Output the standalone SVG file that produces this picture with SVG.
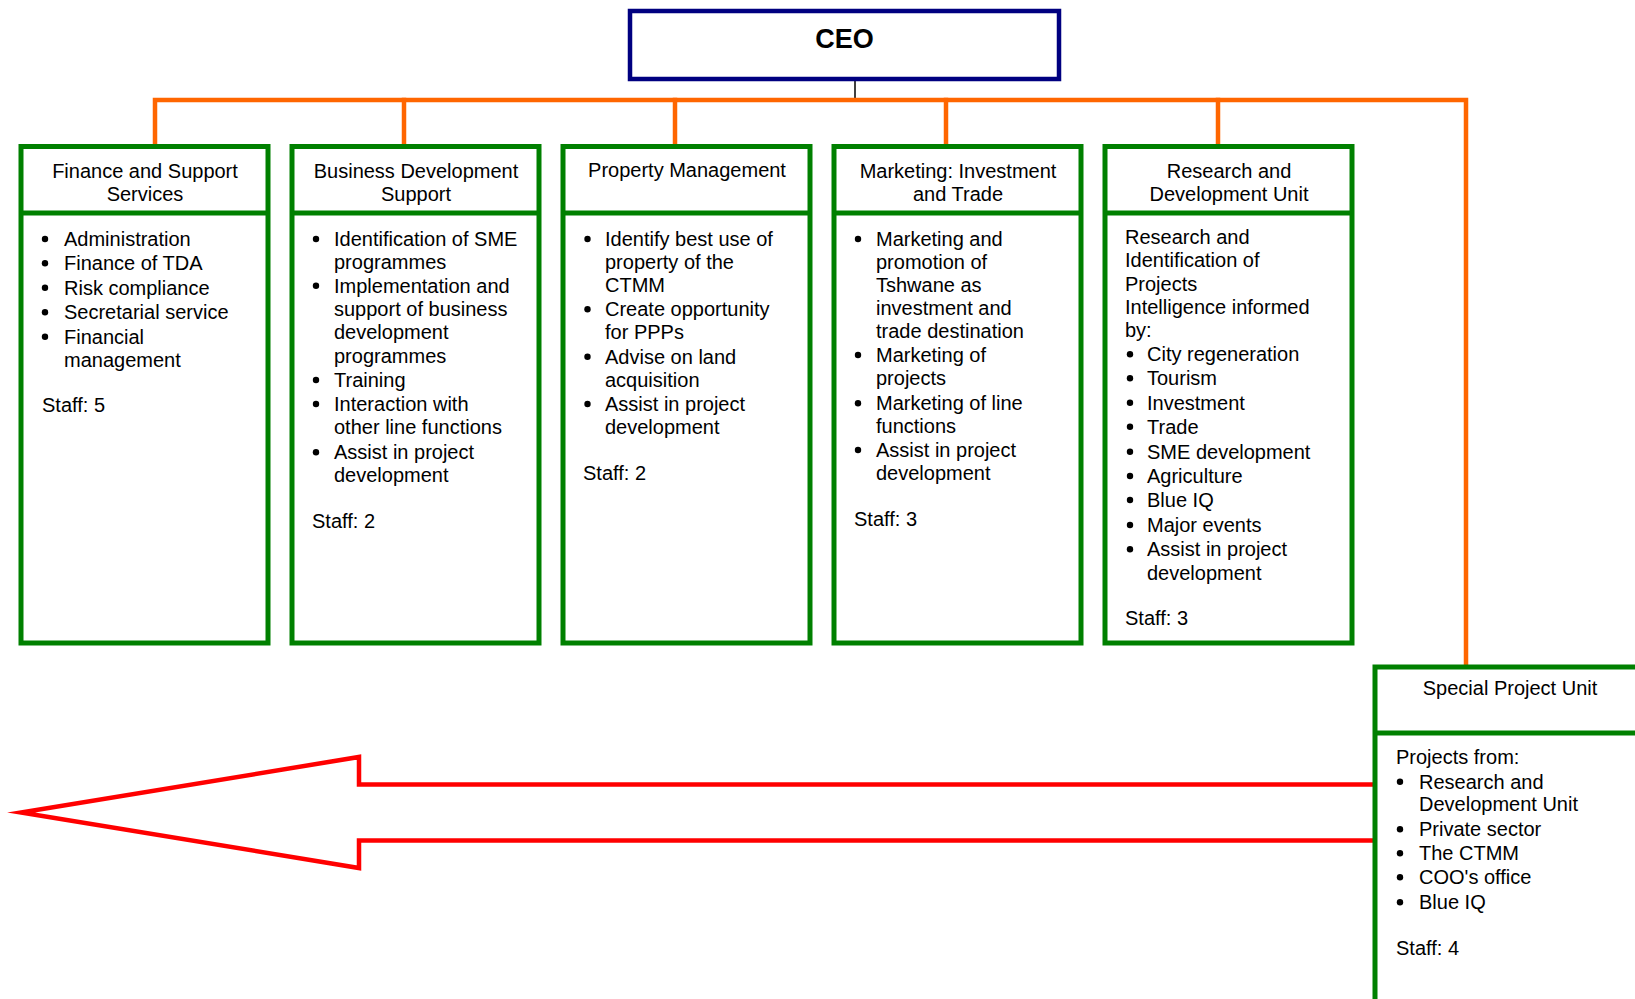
<svg xmlns="http://www.w3.org/2000/svg" width="1635" height="999" viewBox="0 0 1635 999">
  <style>
    .unit { fill: #ffffff; stroke: #008000; stroke-width: 5; }
    .div { stroke: #008000; stroke-width: 5; }
    .hd { font-family: "Liberation Sans", Arial, sans-serif; font-size: 20px; fill: #000; text-anchor: middle; }
    .tx { font-family: "Liberation Sans", Arial, sans-serif; font-size: 20px; fill: #000; }
    .bul { fill: #000; }
    .org { fill: none; stroke: #FF6600; stroke-width: 4.5; stroke-linejoin: miter; stroke-linecap: square; }
  </style>

  <rect width="1635" height="999" fill="#ffffff"/>

  <!-- connectors -->
  <g id="connectors">
    <line x1="855" y1="81" x2="855" y2="99" stroke="#000" stroke-width="1.5"/>
    <path class="org" d="M155,144 V100 H1466 V664"/>
    <line class="org" x1="404" y1="100" x2="404" y2="144"/>
    <line class="org" x1="675" y1="100" x2="675" y2="144"/>
    <line class="org" x1="946" y1="100" x2="946" y2="144"/>
    <line class="org" x1="1218" y1="100" x2="1218" y2="144"/>
    <path fill="none" stroke="#FF0000" stroke-width="4.5" stroke-linejoin="miter" stroke-miterlimit="20"
          d="M1373,784.5 H359 V757 L21,812.5 L359,868 V840.5 H1373"/>
  </g>

  <!-- CEO -->
  <g id="ceo">
    <rect x="630" y="11" width="429" height="68" fill="#ffffff" stroke="#000080" stroke-width="4.5"/>
    <text x="844.5" y="48" font-family="Liberation Sans, Arial, sans-serif" font-size="27" font-weight="bold" text-anchor="middle">CEO</text>
  </g>

  <!-- Finance and Support Services -->
  <g id="finance">
    <rect class="unit" x="21" y="146.5" width="247" height="496.5"/>
    <line class="div" x1="21" y1="213" x2="268" y2="213"/>
    <text class="hd" x="145" y="178">Finance and Support</text>
    <text class="hd" x="145" y="200.5">Services</text>
    <circle class="bul" cx="45" cy="239" r="3.2"/><text class="tx" x="64" y="246">Administration</text>
    <circle class="bul" cx="45" cy="263.3" r="3.2"/><text class="tx" x="64" y="270.3">Finance of TDA</text>
    <circle class="bul" cx="45" cy="287.7" r="3.2"/><text class="tx" x="64" y="294.7">Risk compliance</text>
    <circle class="bul" cx="45" cy="312.3" r="3.2"/><text class="tx" x="64" y="319.3">Secretarial service</text>
    <circle class="bul" cx="45" cy="336.7" r="3.2"/><text class="tx" x="64" y="343.7">Financial</text>
    <text class="tx" x="64" y="367">management</text>
    <text class="tx" x="42" y="412">Staff: 5</text>
  </g>

  <!-- Business Development Support -->
  <g id="business">
    <rect class="unit" x="292" y="146.5" width="247" height="496.5"/>
    <line class="div" x1="292" y1="213" x2="539" y2="213"/>
    <text class="hd" x="416" y="178">Business Development</text>
    <text class="hd" x="416" y="200.5">Support</text>
    <circle class="bul" cx="316" cy="239" r="3.2"/><text class="tx" x="334" y="246">Identification of SME</text>
    <text class="tx" x="334" y="269.3">programmes</text>
    <circle class="bul" cx="316" cy="285.7" r="3.2"/><text class="tx" x="334" y="292.7">Implementation and</text>
    <text class="tx" x="334" y="316">support of business</text>
    <text class="tx" x="334" y="339.3">development</text>
    <text class="tx" x="334" y="362.7">programmes</text>
    <circle class="bul" cx="316" cy="380" r="3.2"/><text class="tx" x="334" y="387">Training</text>
    <circle class="bul" cx="316" cy="404" r="3.2"/><text class="tx" x="334" y="411">Interaction with</text>
    <text class="tx" x="334" y="434.3">other line functions</text>
    <circle class="bul" cx="316" cy="452.3" r="3.2"/><text class="tx" x="334" y="459.3">Assist in project</text>
    <text class="tx" x="334" y="482">development</text>
    <text class="tx" x="312" y="528">Staff: 2</text>
  </g>

  <!-- Property Management -->
  <g id="property">
    <rect class="unit" x="563" y="146.5" width="247" height="496.5"/>
    <line class="div" x1="563" y1="213" x2="810" y2="213"/>
    <text class="hd" x="687" y="177">Property Management</text>
    <circle class="bul" cx="587.5" cy="239" r="3.2"/><text class="tx" x="605" y="246">Identify best use of</text>
    <text class="tx" x="605" y="269.3">property of the</text>
    <text class="tx" x="605" y="292">CTMM</text>
    <circle class="bul" cx="587.5" cy="309.3" r="3.2"/><text class="tx" x="605" y="316.3">Create opportunity</text>
    <text class="tx" x="605" y="338.7">for PPPs</text>
    <circle class="bul" cx="587.5" cy="356.7" r="3.2"/><text class="tx" x="605" y="363.7">Advise on land</text>
    <text class="tx" x="605" y="387">acquisition</text>
    <circle class="bul" cx="587.5" cy="404" r="3.2"/><text class="tx" x="605" y="411">Assist in project</text>
    <text class="tx" x="605" y="434.3">development</text>
    <text class="tx" x="583" y="480.3">Staff: 2</text>
  </g>

  <!-- Marketing: Investment and Trade -->
  <g id="marketing">
    <rect class="unit" x="834" y="146.5" width="247" height="496.5"/>
    <line class="div" x1="834" y1="213" x2="1081" y2="213"/>
    <text class="hd" x="958" y="178">Marketing: Investment</text>
    <text class="hd" x="958" y="200.5">and Trade</text>
    <circle class="bul" cx="858" cy="239" r="3.2"/><text class="tx" x="876" y="246">Marketing and</text>
    <text class="tx" x="876" y="269.3">promotion of</text>
    <text class="tx" x="876" y="292">Tshwane as</text>
    <text class="tx" x="876" y="315.3">investment and</text>
    <text class="tx" x="876" y="338">trade destination</text>
    <circle class="bul" cx="858" cy="355" r="3.2"/><text class="tx" x="876" y="362">Marketing of</text>
    <text class="tx" x="876" y="385.3">projects</text>
    <circle class="bul" cx="858" cy="403.3" r="3.2"/><text class="tx" x="876" y="410.3">Marketing of line</text>
    <text class="tx" x="876" y="433">functions</text>
    <circle class="bul" cx="858" cy="450" r="3.2"/><text class="tx" x="876" y="457">Assist in project</text>
    <text class="tx" x="876" y="480.3">development</text>
    <text class="tx" x="854" y="526">Staff: 3</text>
  </g>

  <!-- Research and Development Unit -->
  <g id="research">
    <rect class="unit" x="1105" y="146.5" width="247" height="496.5"/>
    <line class="div" x1="1105" y1="213" x2="1352" y2="213"/>
    <text class="hd" x="1229" y="178">Research and</text>
    <text class="hd" x="1229" y="200.5">Development Unit</text>
    <text class="tx" x="1125" y="243.7">Research and</text>
    <text class="tx" x="1125" y="267">Identification of</text>
    <text class="tx" x="1125" y="291">Projects</text>
    <text class="tx" x="1125" y="314.3">Intelligence informed</text>
    <text class="tx" x="1125" y="337">by:</text>
    <circle class="bul" cx="1130" cy="354.3" r="3.2"/><text class="tx" x="1147" y="361.3">City regeneration</text>
    <circle class="bul" cx="1130" cy="378.3" r="3.2"/><text class="tx" x="1147" y="385.3">Tourism</text>
    <circle class="bul" cx="1130" cy="402.7" r="3.2"/><text class="tx" x="1147" y="409.7">Investment</text>
    <circle class="bul" cx="1130" cy="426.7" r="3.2"/><text class="tx" x="1147" y="433.7">Trade</text>
    <circle class="bul" cx="1130" cy="451.7" r="3.2"/><text class="tx" x="1147" y="458.7">SME development</text>
    <circle class="bul" cx="1130" cy="476" r="3.2"/><text class="tx" x="1147" y="483">Agriculture</text>
    <circle class="bul" cx="1130" cy="500" r="3.2"/><text class="tx" x="1147" y="507">Blue IQ</text>
    <circle class="bul" cx="1130" cy="525" r="3.2"/><text class="tx" x="1147" y="532">Major events</text>
    <circle class="bul" cx="1130" cy="549.3" r="3.2"/><text class="tx" x="1147" y="556.3">Assist in project</text>
    <text class="tx" x="1147" y="579.7">development</text>
    <text class="tx" x="1125" y="625.3">Staff: 3</text>
  </g>

  <!-- Special Project Unit -->
  <g id="special">
    <rect class="unit" x="1375" y="667" width="280" height="400"/>
    <line class="div" x1="1375" y1="733" x2="1655" y2="733"/>
    <text class="hd" x="1510" y="695">Special Project Unit</text>
    <text class="tx" x="1396" y="764.3">Projects from:</text>
    <circle class="bul" cx="1400" cy="781.7" r="3.2"/><text class="tx" x="1419" y="788.7">Research and</text>
    <text class="tx" x="1419" y="811">Development Unit</text>
    <circle class="bul" cx="1400" cy="829.3" r="3.2"/><text class="tx" x="1419" y="836.3">Private sector</text>
    <circle class="bul" cx="1400" cy="853.3" r="3.2"/><text class="tx" x="1419" y="860.3">The CTMM</text>
    <circle class="bul" cx="1400" cy="877.3" r="3.2"/><text class="tx" x="1419" y="884.3">COO's office</text>
    <circle class="bul" cx="1400" cy="902.3" r="3.2"/><text class="tx" x="1419" y="909.3">Blue IQ</text>
    <text class="tx" x="1396" y="955.3">Staff: 4</text>
  </g>
</svg>
